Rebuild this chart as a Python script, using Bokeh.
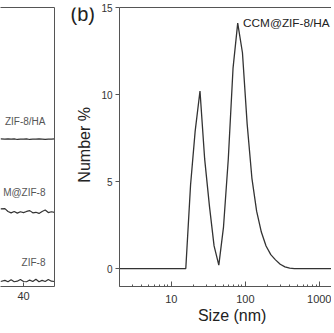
from bokeh.plotting import figure
from bokeh.models import FixedTicker, LinearAxis, Label, Range1d, NumeralTickFormatter
from bokeh.layouts import row
from bokeh.embed import file_html
from bokeh.resources import INLINE
import math

# ---------------- data ----------------
# panel (a): XRD traces (partial view)
xa = [32.6, 34, 35, 36, 37, 38, 39, 40, 41, 42, 43, 44, 45, 46, 47, 48, 49, 50]
ya_ha = [52.9, 52.8, 52.9, 52.8, 52.9, 52.7, 52.8, 52.8, 52.9, 52.7, 52.8, 52.8, 52.9, 52.8, 52.7, 52.8, 52.8, 52.9]
ya_ccm = [27.8, 27.9, 26.9, 26.4, 26.9, 26.3, 26.8, 26.5, 26.9, 27.2, 26.4, 26.6, 26.2, 26.9, 27.4, 26.5, 26.8, 26.6]
ya_zif = [1.8, 2.2, 1.7, 2.4, 1.7, 1.9, 2.5, 1.8, 1.7, 2.3, 1.8, 2.6, 1.7, 2.2, 1.8, 2.5, 1.9, 1.8]
labels_a = ["ZIF-8/HA", "M@ZIF-8", "ZIF-8"]
ticks_a = [40]

# panel (b): DLS size distribution
size_nm = [2, 10, 15.7, 18.2, 21.0, 24.4, 28.2, 32.7, 37.8, 43.8, 50.7, 58.8, 68.1,
           78.8, 91.3, 105.7, 122.4, 141.8, 164.2, 190.1, 220.2, 255.0, 295.3,
           342.0, 396.1, 458.7, 1500]
number_pct = [0, 0, 0, 4.8, 7.9, 10.2, 6.3, 3.6, 1.3, 0.2, 2.4, 6.3, 11.5,
              14.1, 12.4, 8.3, 5.2, 3.3, 2.1, 1.3, 0.8, 0.5, 0.25,
              0.1, 0.02, 0, 0]
ticks_b_x = [10, 100, 1000]
ticks_b_y = [0, 5, 10, 15]
series_b = "CCM@ZIF-8/HA"

FONT = "Liberation Sans"
FRAME = "#555555"
TXT = "#333333"
LINE = "#333333"


def bare_axis():
    return LinearAxis(ticker=FixedTicker(ticks=[]), major_label_text_font_size="0px",
                      major_label_standoff=0, major_tick_out=0, major_tick_in=0,
                      minor_tick_out=0, minor_tick_in=0, axis_line_color=FRAME,
                      axis_label=None)


# ---------------- panel (a) ----------------
pa = figure(width=62, height=327, output_backend="svg", toolbar_location=None,
            x_range=Range1d(32.58, 50), y_range=Range1d(0, 100),
            min_border_left=0, min_border_right=8, min_border_top=4, min_border_bottom=41,
            y_axis_location=None)
pa.outline_line_color = None
pa.grid.visible = False
pa.xaxis.ticker = FixedTicker(ticks=ticks_a)
pa.xaxis.major_tick_in = 4
pa.xaxis.major_tick_out = 0
pa.xaxis.minor_tick_in = 0
pa.xaxis.minor_tick_out = 0
pa.xaxis.axis_line_color = FRAME
pa.xaxis.major_tick_line_color = FRAME
pa.xaxis.major_label_text_font = FONT
pa.xaxis.major_label_text_font_size = "11px"
pa.xaxis.major_label_text_color = TXT
pa.xaxis.major_label_standoff = 5
pa.add_layout(bare_axis(), "right")
pa.add_layout(bare_axis(), "above")

for ys in (ya_ha, ya_ccm, ya_zif):
    pa.line(xa, ys, line_color=LINE, line_width=1.2)

label_pos = [(59.2, labels_a[0]), (33.7, labels_a[1]), (8.5, labels_a[2])]
for yv, t in label_pos:
    pa.add_layout(Label(x=47.1, y=yv, text=t, text_align="right", text_baseline="middle",
                        text_font=FONT, text_font_size="10px", text_color="#555555"))

# ---------------- panel (b) left strip: panel letter + y title ----------------
pl = figure(width=36, height=327, output_backend="svg", toolbar_location=None,
            x_range=Range1d(0, 36), y_range=Range1d(0, 327),
            min_border_left=0, min_border_right=0, min_border_top=0, min_border_bottom=0,
            x_axis_location=None, y_axis_location=None)
pl.outline_line_color = None
pl.grid.visible = False
pl.add_layout(Label(x=8, y=319, text="(b)", text_baseline="middle",
                    text_font=FONT, text_font_size="20px", text_color="#222222"))
pl.add_layout(Label(x=22, y=166, text="Number %", angle=math.pi / 2,
                    text_align="center", text_baseline="middle",
                    text_font=FONT, text_font_size="16px", text_color="#222222"))

# ---------------- panel (b) ----------------
pb = figure(width=233, height=327, output_backend="svg", toolbar_location=None,
            x_axis_type="log", x_range=Range1d(2, 1453), y_range=Range1d(-1.03, 15),
            min_border_left=21, min_border_right=0, min_border_top=7, min_border_bottom=40)
pb.outline_line_color = None
pb.grid.visible = False

minor_b = [m * d for d in (1, 10, 100, 1000) for m in range(2, 10)]
pb.xaxis.ticker = FixedTicker(ticks=ticks_b_x, minor_ticks=minor_b)
pb.xaxis.formatter = NumeralTickFormatter(format="0")
pb.xaxis.major_tick_in = 5
pb.xaxis.major_tick_out = 0
pb.xaxis.minor_tick_in = 2
pb.xaxis.minor_tick_out = 0
pb.xaxis.axis_line_color = FRAME
pb.xaxis.major_tick_line_color = FRAME
pb.xaxis.minor_tick_line_color = FRAME
pb.xaxis.major_label_text_font = FONT
pb.xaxis.major_label_text_font_size = "11px"
pb.xaxis.major_label_text_color = TXT
pb.xaxis.major_label_standoff = 8
pb.xaxis.axis_label = "\u00a0\u00a0\u00a0Size (nm)"
pb.xaxis.axis_label_text_font = FONT
pb.xaxis.axis_label_text_font_size = "16px"
pb.xaxis.axis_label_text_font_style = "normal"
pb.xaxis.axis_label_text_color = "#222222"
pb.xaxis.axis_label_standoff = 1

pb.yaxis.ticker = FixedTicker(ticks=ticks_b_y)
pb.yaxis.major_tick_in = 0
pb.yaxis.major_tick_out = 4
pb.yaxis.minor_tick_in = 0
pb.yaxis.minor_tick_out = 0
pb.yaxis.axis_line_color = FRAME
pb.yaxis.major_tick_line_color = FRAME
pb.yaxis.major_label_text_font = FONT
pb.yaxis.major_label_text_font_size = "10px"
pb.yaxis.major_label_text_color = TXT
pb.yaxis.major_label_standoff = 3
pb.add_layout(bare_axis(), "above")

pb.line(size_nm, number_pct, line_color=LINE, line_width=1.3)

pb.add_layout(Label(x=93, y=14.1, text=series_b, text_baseline="middle",
                    text_font=FONT, text_font_size="11.8px", text_color="#222222"))

layout = row(pa, pl, pb, spacing=0)

open("out.html", "w").write(file_html(layout, INLINE))
